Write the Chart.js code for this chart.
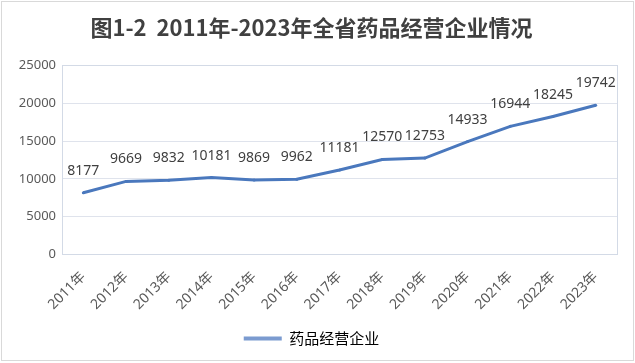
<!DOCTYPE html>
<html>
<head>
<meta charset="utf-8">
<script src="https://cdn.jsdelivr.net/npm/chart.js@4"></script>
<style>
  html, body { margin: 0; padding: 0; background: #fff; }
  #wrap { position: relative; width: 631px; height: 358px; border: 1px solid #d9d9d9; margin: 1px 0 0 1px; }
  canvas { position: absolute; left: 0; top: 0; }
</style>
</head>
<body>
<div id="wrap"><canvas id="chart" width="631" height="358"></canvas></div>
<script>
const years = ['2011年', '2012年', '2013年', '2014年', '2015年', '2016年', '2017年',
               '2018年', '2019年', '2020年', '2021年', '2022年', '2023年'];
const companies = [8177, 9669, 9832, 10181, 9869, 9962, 11181, 12570, 12753, 14933, 16944, 18245, 19742];
const seriesName = '药品经营企业';
const titleText = '图1-2  2011年-2023年全省药品经营企业情况';

const cjk = '"Noto Sans CJK SC", "Noto Sans", sans-serif';
const latin = '"Noto Sans", "Noto Sans CJK SC", sans-serif';
const lineBlue = '#4a78bd';

// draws the value above each point
const valueLabels = {
    id: 'valueLabels',
    afterDatasetsDraw(chart) {
        const ctx = chart.ctx;
        const meta = chart.getDatasetMeta(0);
        ctx.save();
        ctx.font = '14px ' + latin;
        ctx.fillStyle = '#404040';
        ctx.textAlign = 'center';
        ctx.textBaseline = 'alphabetic';
        meta.data.forEach((pt, i) => {
            ctx.fillText(String(chart.data.datasets[0].data[i]), pt.x, pt.y - 18);
        });
        ctx.restore();
    }
};

new Chart(document.getElementById('chart').getContext('2d'), {
    type: 'line',
    data: {
        labels: years,
        datasets: [{
            label: seriesName,
            data: companies,
            borderColor: lineBlue,
            backgroundColor: lineBlue,
            borderWidth: 3,
            pointRadius: 1.5,
            pointBorderWidth: 0,
            tension: 0,
            fill: false
        }]
    },
    options: {
        responsive: false,
        animation: false,
        layout: { padding: { left: 4, right: 16, top: 6, bottom: 4 } },
        plugins: {
            title: {
                display: true,
                text: titleText,
                color: '#404040',
                font: { family: cjk, size: 22, weight: 'bold' },
                padding: { top: 6, bottom: 25 }
            },
            legend: {
                position: 'bottom',
                labels: {
                    usePointStyle: true,
                    pointStyleWidth: 38,
                    color: '#595959',
                    font: { family: cjk, size: 15 },
                    padding: 4,
                    generateLabels: (chart) => [{
                        text: seriesName,
                        fillStyle: '#7b9bd0',
                        strokeStyle: '#7b9bd0',
                        lineWidth: 4,
                        pointStyle: 'line',
                        datasetIndex: 0
                    }]
                }
            },
            tooltip: { enabled: false }
        },
        scales: {
            y: {
                min: 0,
                max: 25000,
                ticks: {
                    stepSize: 5000,
                    color: '#595959',
                    font: { family: latin, size: 13 },
                    padding: 6,
                    callback: (v) => String(v)
                },
                grid: { color: '#dfe3ec', drawTicks: false },
                border: { display: true, color: '#d3dae6' },
                afterFit(s) { s.width = 56; }
            },
            x: {
                offset: true,
                ticks: { minRotation: 45, maxRotation: 45, color: '#595959', font: { family: latin, size: 14 }, padding: 14 },
                grid: { display: false, drawTicks: false },
                border: { display: true, color: '#d3dae6' }
            },
            x2: {
                position: 'top',
                offset: true,
                ticks: { display: false },
                grid: { display: false, drawTicks: false },
                border: { display: true, color: '#d3dae6' }
            },
            y2: {
                position: 'right',
                min: 0,
                max: 25000,
                ticks: { display: false },
                grid: { display: false, drawTicks: false },
                border: { display: true, color: '#d3dae6' }
            }
        }
    },
    plugins: [valueLabels]
});
</script>
</body>
</html>
